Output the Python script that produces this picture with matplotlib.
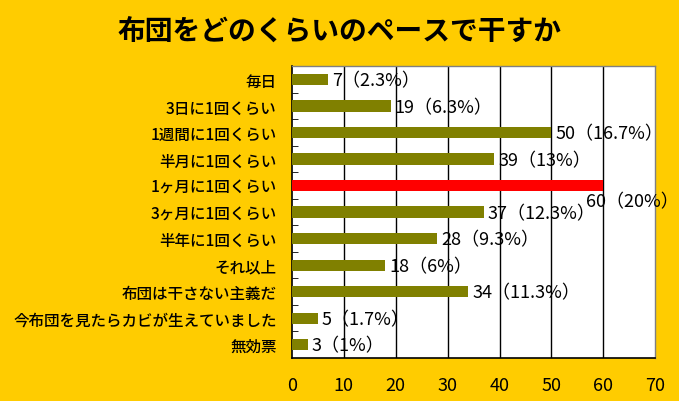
import matplotlib
matplotlib.use("Agg")
import matplotlib.pyplot as plt

plt.rcParams["font.family"] = ["Noto Sans CJK JP", "DejaVu Sans"]

categories = [
    "毎日",
    "3日に1回くらい",
    "1週間に1回くらい",
    "半月に1回くらい",
    "1ヶ月に1回くらい",
    "3ヶ月に1回くらい",
    "半年に1回くらい",
    "それ以上",
    "布団は干さない主義だ",
    "今布団を見たらカビが生えていました",
    "無効票",
]
counts = [7, 19, 50, 39, 60, 37, 28, 18, 34, 5, 3]
percents = ["2.3", "6.3", "16.7", "13", "20", "12.3", "9.3", "6", "11.3", "1.7", "1"]
highlight = "1ヶ月に1回くらい"

bg = "#FFCC00"
olive = "#808000"
red = "#FF0000"

def main():

    fig = plt.figure(figsize = (6.79, 4.02), dpi = 100, facecolor = bg)
    ax = fig.add_axes([0.430, 0.107, 0.535, 0.726])
    ax.set_facecolor("white")

    ypos = list(range(len(categories)))
    colors = [red if c == highlight else olive for c in categories]
    ax.barh(ypos, counts, height = 0.42, color = colors, zorder = 3)

    ax.set_xlim(0, 70)
    ax.set_ylim(len(categories) - 0.5, -0.5)
    ax.set_xticks(range(0, 71, 10))
    ax.tick_params(axis = "x", length = 0, pad = 13, labelsize = 13)
    ax.set_yticks(ypos)
    ax.set_yticklabels(categories, fontsize = 11.2, fontweight = "medium")
    ax.tick_params(axis = "y", which = "major", length = 0, pad = 11)
    ax.set_yticks([i + 0.5 for i in ypos[:-1]], minor = True)
    ax.tick_params(axis = "y", which = "minor", direction = "in", length = 4, color = "black")

    for x in range(10, 70, 10):
        ax.axvline(x, color = "black", linewidth = 1, zorder = 2)

    for side in ["left", "bottom"]:
        ax.spines[side].set_color("black")
        ax.spines[side].set_linewidth(1.2)
    for side in ["top", "right"]:
        ax.spines[side].set_color("#808080")
        ax.spines[side].set_linewidth(1)

    # the longest bar's label sits below the bar end, as in the original
    for y, (cat, n, p) in enumerate(zip(categories, counts, percents)):
        if cat == highlight:
            offset = (-17, -16)
        else:
            offset = (4, -1)
        ax.annotate(f"{n}（{p}%）", xy = (n, y), xytext = offset,
                    textcoords = "offset pixels", va = "center", ha = "left",
                    fontsize = 13, zorder = 4, annotation_clip = False)

    fig.text(0.5, 0.922, "布団をどのくらいのペースで干すか", ha = "center", va = "center",
             fontsize = 20, fontweight = "bold")

    fig.savefig("out.png", dpi = 100, facecolor = bg)

if __name__ == "__main__":
    main()
